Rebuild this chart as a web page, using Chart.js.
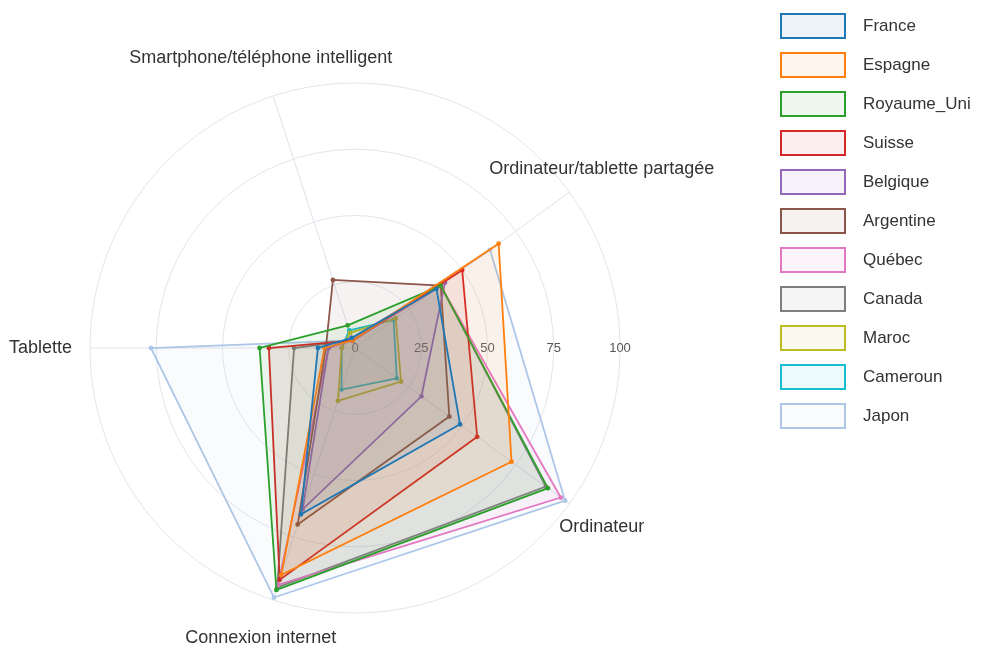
<!DOCTYPE html>
<html>
<head>
<meta charset="utf-8">
<script src="https://cdn.jsdelivr.net/npm/chart.js@4.4.0/dist/chart.umd.min.js"></script>
<style>
  body { margin: 0; background: #fff; font-family: "Liberation Sans", Arial, sans-serif; }
  #wrap { position: relative; width: 982px; height: 645px; }
  #legend { position: absolute; left: 780px; top: 13px; }
  .item { display: flex; align-items: center; height: 26px; margin-bottom: 13px; }
  .box { width: 62px; height: 22px; border: 2px solid; margin-right: 17px; }
  .lbl { font-size: 17px; color: #333; }
</style>
</head>
<body>
<div id="wrap">
  <canvas id="radar" width="982" height="645"></canvas>
  <div id="legend"></div>
</div>
<script>
// axes, clockwise starting at the smartphone axis
var labels = ["Smartphone/téléphone intelligent", "Ordinateur/tablette partagée", "Ordinateur", "Connexion internet", "Tablette"];
var ticks = [0, 25, 50, 75, 100];

var pays = ["France", "Espagne", "Royaume_Uni", "Suisse", "Belgique", "Argentine", "Québec", "Canada", "Maroc", "Cameroun", "Japon"];
var couleurs = ["#1f77b4", "#ff7f0e", "#2ca02c", "#d62728", "#9467bd", "#8c564b", "#e377c2", "#7f7f7f", "#bcbd22", "#17becf", "#aec7e8"];

var france = [4, 38, 49, 66, 14];
var espagne = [3, 67, 73, 90, 11.5];
var royaumeUni = [9, 40, 90, 96, 36];
var suisse = [3, 50, 57, 92, 32.5];
var belgique = [4, 42, 31, 64, 10];
var argentine = [27, 40, 44, 70, 11];
var quebec = [3, 40, 96, 94, 10];
var canada = [3, 40, 89, 95, 23];
var maroc = [6, 19, 21.5, 21, 5];
var cameroun = [7, 18, 19.5, 16.5, 5];
var japon = [3, 63, 98, 99, 77];

var valeurs = [france, espagne, royaumeUni, suisse, belgique, argentine, quebec, canada, maroc, cameroun, japon];

function clair(hex, a) {
  var n = parseInt(hex.slice(1), 16);
  return "rgba(" + (n >> 16) + "," + ((n >> 8) & 255) + "," + (n & 255) + "," + a + ")";
}

var datasets = pays.map(function (nom, i) {
  return {
    label: nom,
    data: valeurs[i],
    borderColor: couleurs[i],
    backgroundColor: clair(couleurs[i], 0.08),
    pointBackgroundColor: couleurs[i],
    pointBorderColor: couleurs[i],
    pointRadius: 1.5,
    borderWidth: 1.8,
    fill: true
  };
});

//------ axis titles and tick values, placed from the radial scale ------
var etiquettes = {
  id: "etiquettes",
  beforeDatasetsDraw: function (chart) {
    var ctx = chart.ctx;
    var r = chart.scales.r;
    ctx.save();
    ctx.font = "13px 'Liberation Sans', Arial, sans-serif";
    ctx.fillStyle = "#555";
    ctx.textAlign = "center";
    ctx.textBaseline = "middle";
    ticks.forEach(function (v) {
      ctx.fillText(String(v), r.xCenter + r.getDistanceFromCenterForValue(v), r.yCenter);
    });
    ctx.restore();
  },
  afterDraw: function (chart) {
    var ctx = chart.ctx;
    var r = chart.scales.r;
    ctx.save();
    ctx.font = "18px 'Liberation Sans', Arial, sans-serif";
    ctx.fillStyle = "#333";
    ctx.textBaseline = "middle";
    labels.forEach(function (txt, i) {
      var p = r.getPointPosition(i, r.drawingArea + 40);
      var c = Math.cos(p.angle);
      if (Math.abs(c) > 0.95) {
        p = r.getPointPosition(i, r.drawingArea + 18);
        ctx.textAlign = c < 0 ? "right" : "left";
      } else {
        ctx.textAlign = "center";
      }
      ctx.fillText(txt, p.x, p.y);
    });
    ctx.restore();
  }
};

var ctx = document.getElementById("radar").getContext("2d");
var radar = new Chart(ctx, {
  type: "radar",
  data: { labels: labels, datasets: datasets },
  options: {
    responsive: false,
    animation: false,
    devicePixelRatio: 1,
    layout: { padding: { left: 90, right: 362, top: 83, bottom: 32 } },
    elements: { line: { tension: 0 } },
    plugins: { legend: { display: false }, tooltip: { enabled: false } },
    scales: {
      r: {
        min: 0,
        max: 100,
        startAngle: -18,
        ticks: { display: false, stepSize: 25 },
        pointLabels: { display: false },
        grid: { circular: true, color: "#e3e5ea", lineWidth: 1 },
        angleLines: { color: "#dde1ea", lineWidth: 1 }
      }
    }
  },
  plugins: [etiquettes]
});

//------ legend ------
var legend = document.getElementById("legend");
datasets.forEach(function (d) {
  var item = document.createElement("div");
  item.className = "item";
  var box = document.createElement("div");
  box.className = "box";
  box.style.borderColor = d.borderColor;
  box.style.background = d.backgroundColor;
  var lbl = document.createElement("span");
  lbl.className = "lbl";
  lbl.textContent = d.label;
  item.appendChild(box);
  item.appendChild(lbl);
  legend.appendChild(item);
});
</script>
</body>
</html>
